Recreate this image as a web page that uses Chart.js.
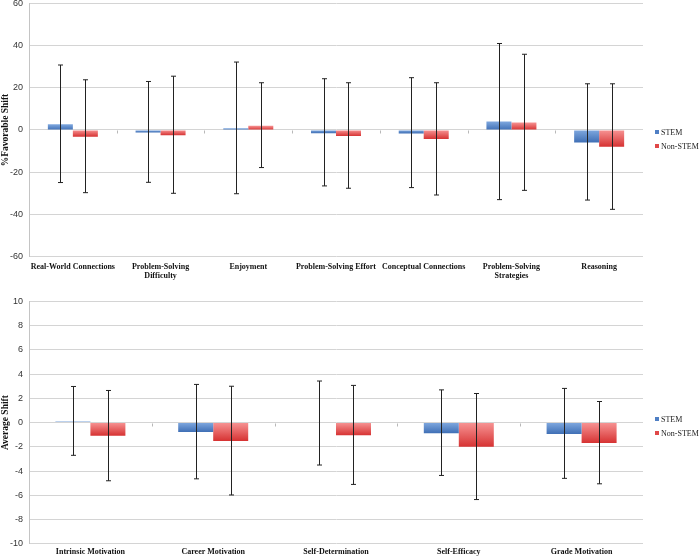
<!DOCTYPE html>
<html>
<head>
<meta charset="utf-8">
<script src="https://cdn.jsdelivr.net/npm/chart.js@4"></script>
<style>
  html, body { margin: 0; padding: 0; background: #fff; }
  body { width: 700px; height: 557px; position: relative; overflow: hidden; }
  canvas { position: absolute; left: 0; }
  #topChart { top: -8px; }
  #bottomChart { top: 290px; }
  .legend { position: absolute; left: 655px; font: 8px "Liberation Serif", "Times New Roman", serif; color: #222; }
  .legend div { height: 14px; line-height: 14px; white-space: nowrap; }
  .legend span { display: inline-block; width: 4px; height: 4px; margin-right: 2px; vertical-align: 1px; }
</style>
</head>
<body>
<canvas id="topChart" width="700" height="295"></canvas>
<canvas id="bottomChart" width="700" height="271"></canvas>
<div class="legend" id="topLegend" style="top:126px"></div>
<div class="legend" id="bottomLegend" style="top:413px"></div>
<script>
// ── Data ──

const SERIES = ["STEM", "Non-STEM"];

const topCategories = [
    "Real-World Connections",
    ["Problem-Solving", "Difficulty"],
    "Enjoyment",
    "Problem-Solving Effort",
    "Conceptual Connections",
    ["Problem-Solving", "Strategies"],
    "Reasoning",
];
const topStem = [2.7, -1.2, 0.8, -1.5, -1.6, 4.0, -5.9];
const topStemHigh = [30.8, 23.0, 32.2, 24.3, 24.8, 41.0, 21.9];
const topStemLow = [-24.9, -24.8, -30.2, -26.5, -27.3, -33.0, -33.2];
const topNon = [-3.2, -2.5, 2.0, -2.9, -4.3, 3.6, -7.9];
const topNonHigh = [23.8, 25.5, 22.4, 22.4, 22.4, 35.9, 21.9];
const topNonLow = [-29.7, -30.0, -17.8, -27.6, -30.8, -28.6, -37.6];

const bottomCategories = [
    "Intrinsic Motivation",
    "Career Motivation",
    "Self-Determination",
    "Self-Efficacy",
    "Grade Motivation",
];
const bottomStem = [0.1, -0.77, -0.03, -0.88, -0.94];
const bottomStemHigh = [2.98, 3.15, 3.43, 2.7, 2.82];
const bottomStemLow = [-2.7, -4.64, -3.5, -4.36, -4.6];
const bottomNon = [-1.08, -1.52, -1.05, -2.0, -1.69];
const bottomNonHigh = [2.65, 3.0, 3.07, 2.4, 1.74];
const bottomNonLow = [-4.8, -5.97, -5.1, -6.35, -5.05];

// ── Styling helpers ──

const COLORS = [
    { light: "#7fa8df", dark: "#3f6fb5", swatch: "#4f7fc4" },
    { light: "#f79494", dark: "#d63232", swatch: "#e04848" },
];

function barGradient(idx) {
    return (ctx) => {
        const chart = ctx.chart;
        if (!chart.chartArea || ctx.type !== "data") return COLORS[idx].dark;
        const y = chart.scales.y;
        const v = ctx.raw;
        const top = y.getPixelForValue(Math.max(v, 0));
        const bot = y.getPixelForValue(Math.min(v, 0));
        if (!isFinite(top) || !isFinite(bot) || bot - top < 1) return COLORS[idx].dark;
        const g = chart.ctx.createLinearGradient(0, top, 0, bot);
        g.addColorStop(0, COLORS[idx].light);
        g.addColorStop(1, COLORS[idx].dark);
        return g;
    };
}

// error bars and zero-line tick marks drawn over the bars
const errorBarPlugin = {
    id: "errorBars",
    afterDatasetsDraw(chart, args, opts) {
        const { ctx } = chart;
        const y = chart.scales.y;
        const x = chart.scales.x;
        ctx.save();
        // small tick marks on the zero line between categories
        ctx.strokeStyle = "#b8b8b8";
        ctx.lineWidth = 1;
        const y0 = Math.round(y.getPixelForValue(0)) + 0.5;
        const n = chart.data.labels.length;
        for (let i = 1; i < n; i++) {
            const px = Math.round((x.getPixelForValue(i - 1) + x.getPixelForValue(i)) / 2) + 0.5;
            ctx.beginPath();
            ctx.moveTo(px, y0);
            ctx.lineTo(px, y0 + 3);
            ctx.stroke();
        }
        // vertical error bars with caps
        ctx.strokeStyle = "#222";
        opts.ranges.forEach((range, di) => {
            const meta = chart.getDatasetMeta(di);
            meta.data.forEach((bar, i) => {
                const px = Math.round(bar.x) + 0.5;
                const hi = y.getPixelForValue(range.high[i]);
                const lo = y.getPixelForValue(range.low[i]);
                ctx.beginPath();
                ctx.moveTo(px, hi);
                ctx.lineTo(px, lo);
                ctx.moveTo(px - 2.5, hi);
                ctx.lineTo(px + 2.5, hi);
                ctx.moveTo(px - 2.5, lo);
                ctx.lineTo(px + 2.5, lo);
                ctx.stroke();
            });
        });
        ctx.restore();
    },
};

function buildChart(canvasId, legendId, cfg) {
    const legend = document.getElementById(legendId);
    legend.innerHTML = SERIES.map((s, i) =>
        `<div><span style="background:${COLORS[i].swatch}"></span>${s}</div>`).join("");

    return new Chart(document.getElementById(canvasId).getContext("2d"), {
        type: "bar",
        data: {
            labels: cfg.labels,
            datasets: cfg.values.map((vals, i) => ({
                label: SERIES[i],
                data: vals,
                backgroundColor: barGradient(i),
                borderWidth: 0,
                categoryPercentage: 0.57,
                barPercentage: 1.0,
            })),
        },
        options: {
            responsive: false,
            animation: false,
            layout: { padding: { top: cfg.padTop, right: 57, bottom: 0, left: 0 } },
            plugins: {
                legend: { display: false },
                tooltip: { enabled: false },
                errorBars: { ranges: cfg.ranges },
            },
            scales: {
                x: {
                    grid: { display: false, drawTicks: false, tickLength: 0 },
                    border: { display: false },
                    ticks: {
                        color: "#111",
                        padding: cfg.tickPad,
                        maxRotation: 0,
                        autoSkip: false,
                        font: { family: "'Liberation Serif', 'Times New Roman', serif", size: 8, weight: "bold", lineHeight: 1.15 },
                    },
                },
                y: {
                    min: cfg.min,
                    max: cfg.max,
                    ticks: {
                        stepSize: cfg.step,
                        color: "#333",
                        padding: 6,
                        font: { family: "'Liberation Sans', Arial, sans-serif", size: 9 },
                    },
                    grid: { color: "#d4d4d4", lineWidth: 1, drawTicks: false },
                    border: { color: "#c4c4c4" },
                    title: {
                        display: true,
                        text: cfg.yTitle,
                        color: "#111",
                        padding: { top: 0, bottom: 0 },
                        font: { family: "'Liberation Serif', 'Times New Roman', serif", size: 9.5, weight: "bold" },
                    },
                    afterFit: (axis) => { axis.width = 29; },
                },
            },
        },
        plugins: [errorBarPlugin],
    });
}

buildChart("topChart", "topLegend", {
    labels: topCategories,
    values: [topStem, topNon],
    ranges: [
        { high: topStemHigh, low: topStemLow },
        { high: topNonHigh, low: topNonLow },
    ],
    min: -60, max: 60, step: 20,
    yTitle: "%Favorable Shift",
    padTop: 0,
    tickPad: 6,
});

buildChart("bottomChart", "bottomLegend", {
    labels: bottomCategories,
    values: [bottomStem, bottomNon],
    ranges: [
        { high: bottomStemHigh, low: bottomStemLow },
        { high: bottomNonHigh, low: bottomNonLow },
    ],
    min: -10, max: 10, step: 2,
    yTitle: "Average Shift",
    padTop: 6,
    tickPad: 4,
});
</script>
</body>
</html>
